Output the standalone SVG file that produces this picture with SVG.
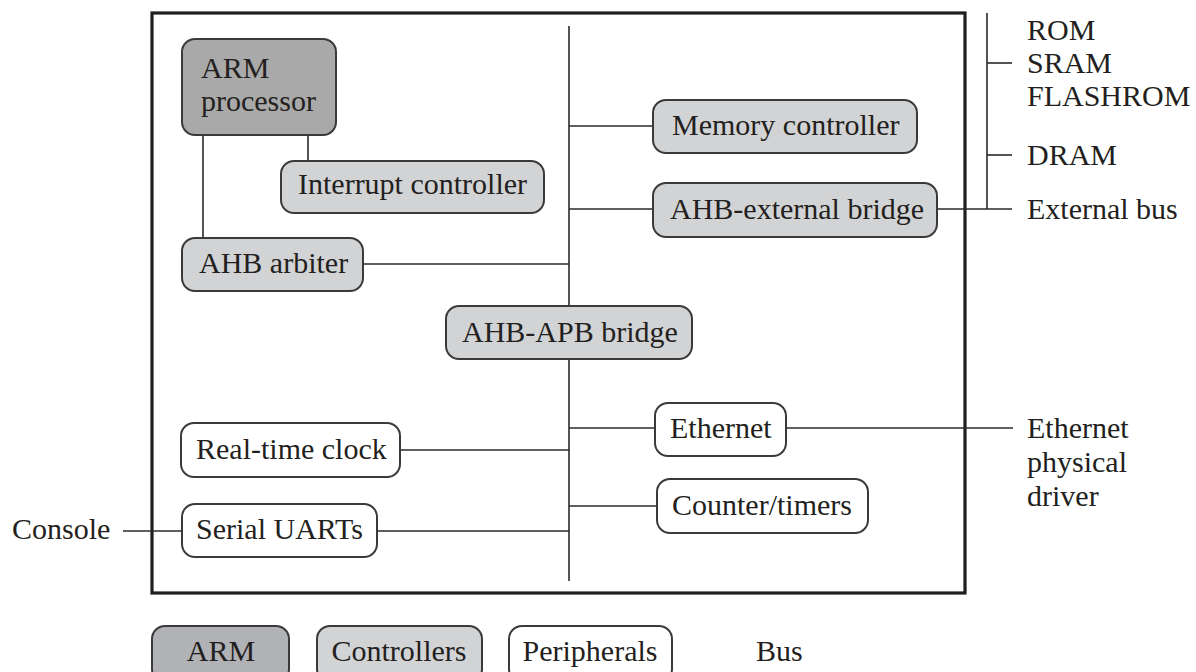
<svg xmlns="http://www.w3.org/2000/svg" width="1196" height="672" viewBox="0 0 1196 672">
  <style>
    text { font-family: "Liberation Serif", "Times New Roman", serif; font-size: 30px; fill: #231f20; }
    .box { stroke: #3a3a3a; stroke-width: 2; }
    .arm { fill: #a9a9a9; }
    .ctl { fill: #d2d3d5; }
    .per { fill: #ffffff; }
    .line { stroke: #2a2a2a; stroke-width: 1.6; fill: none; }
    .frame { stroke: #1e1e1e; stroke-width: 3.2; fill: none; }
  </style>
  <rect width="1196" height="672" fill="#ffffff"/>

  <rect class="frame" x="152" y="13" width="813" height="580"/>

  <g id="connectors">
    <line class="line" x1="569" y1="26" x2="569" y2="581"/>
    <line class="line" x1="203" y1="135" x2="203" y2="238"/>
    <line class="line" x1="308" y1="135" x2="308" y2="161"/>
    <line class="line" x1="363" y1="264" x2="569" y2="264"/>
    <line class="line" x1="569" y1="126" x2="653" y2="126"/>
    <line class="line" x1="569" y1="209" x2="653" y2="209"/>
    <line class="line" x1="937" y1="209" x2="1012" y2="209"/>
    <line class="line" x1="987" y1="13" x2="987" y2="209"/>
    <line class="line" x1="987" y1="63" x2="1012" y2="63"/>
    <line class="line" x1="987" y1="155" x2="1012" y2="155"/>
    <line class="line" x1="569" y1="428" x2="655" y2="428"/>
    <line class="line" x1="786" y1="428" x2="1013" y2="428"/>
    <line class="line" x1="569" y1="506" x2="657" y2="506"/>
    <line class="line" x1="400" y1="450" x2="569" y2="450"/>
    <line class="line" x1="377" y1="531" x2="569" y2="531"/>
    <line class="line" x1="123" y1="531" x2="182" y2="531"/>
  </g>

  <g id="arm-processor">
    <rect class="box arm" x="182" y="39" width="154" height="96" rx="13"/>
    <text x="201" y="78">ARM</text>
    <text x="201" y="111">processor</text>
  </g>
  <g id="interrupt-controller">
    <rect class="box ctl" x="281" y="161" width="263" height="52" rx="13"/>
    <text x="298" y="194">Interrupt controller</text>
  </g>
  <g id="ahb-arbiter">
    <rect class="box ctl" x="182" y="238" width="181" height="53" rx="13"/>
    <text x="199" y="273">AHB arbiter</text>
  </g>
  <g id="memory-controller">
    <rect class="box ctl" x="653" y="100" width="264" height="53" rx="13"/>
    <text x="672" y="135">Memory controller</text>
  </g>
  <g id="ahb-external-bridge">
    <rect class="box ctl" x="653" y="183" width="284" height="54" rx="13"/>
    <text x="670" y="219">AHB-external bridge</text>
  </g>
  <g id="ahb-apb-bridge">
    <rect class="box ctl" x="446" y="306" width="246" height="53" rx="13"/>
    <text x="462" y="342">AHB-APB bridge</text>
  </g>
  <g id="ethernet">
    <rect class="box per" x="655" y="403" width="131" height="53" rx="13"/>
    <text x="670" y="438">Ethernet</text>
  </g>
  <g id="counter-timers">
    <rect class="box per" x="657" y="479" width="211" height="54" rx="13"/>
    <text x="672" y="515">Counter/timers</text>
  </g>
  <g id="real-time-clock">
    <rect class="box per" x="181" y="423" width="219" height="54" rx="13"/>
    <text x="196" y="459">Real-time clock</text>
  </g>
  <g id="serial-uarts">
    <rect class="box per" x="182" y="504" width="195" height="53" rx="13"/>
    <text x="196" y="539">Serial UARTs</text>
  </g>

  <g id="external-labels">
    <text x="1027" y="40">ROM</text>
    <text x="1027" y="73">SRAM</text>
    <text x="1027" y="106">FLASHROM</text>
    <text x="1027" y="165">DRAM</text>
    <text x="1027" y="219">External bus</text>
    <text x="1027" y="438">Ethernet</text>
    <text x="1027" y="472">physical</text>
    <text x="1027" y="506">driver</text>
    <text x="12" y="539">Console</text>
  </g>

  <g id="legend">
    <g id="legend-arm">
      <rect class="box arm" x="152" y="626" width="137" height="56" rx="13" style="fill:#b1b2b5"/>
      <text x="221" y="661" text-anchor="middle">ARM</text>
    </g>
    <g id="legend-controllers">
      <rect class="box ctl" x="317" y="626" width="165" height="56" rx="13"/>
      <text x="399" y="661" text-anchor="middle">Controllers</text>
    </g>
    <g id="legend-peripherals">
      <rect class="box per" x="509" y="626" width="163" height="56" rx="13"/>
      <text x="590" y="661" text-anchor="middle">Peripherals</text>
    </g>
    <g id="legend-bus">
      <text x="756" y="661">Bus</text>
    </g>
  </g>
</svg>
